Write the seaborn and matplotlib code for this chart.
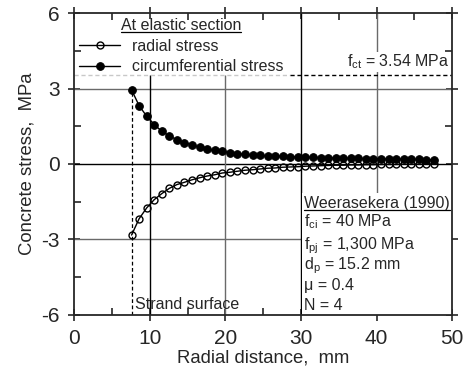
import numpy as np
import pandas as pd
import matplotlib
matplotlib.use("Agg")
import matplotlib.pyplot as plt
import seaborn as sns
from matplotlib.lines import Line2D
from matplotlib.patches import Rectangle

# radial distance from strand centre (mm)
r = [7.6, 8.6, 9.6, 10.6, 11.6, 12.6, 13.6, 14.6, 15.6, 16.6, 17.6, 18.6, 19.6, 20.6,
     21.6, 22.6, 23.6, 24.6, 25.6, 26.6, 27.6, 28.6, 29.6, 30.6, 31.6, 32.6, 33.6, 34.6,
     35.6, 36.6, 37.6, 38.6, 39.6, 40.6, 41.6, 42.6, 43.6, 44.6, 45.6, 46.6, 47.6]
circ = [2.95, 2.32, 1.90, 1.57, 1.30, 1.12, 0.96, 0.85, 0.76, 0.66, 0.60, 0.54, 0.50, 0.45,
        0.41, 0.38, 0.36, 0.34, 0.32, 0.31, 0.30, 0.29, 0.28, 0.27, 0.26, 0.25, 0.24, 0.24,
        0.23, 0.22, 0.22, 0.21, 0.21, 0.20, 0.20, 0.19, 0.19, 0.18, 0.18, 0.17, 0.17]
radial = [-2.83, -2.18, -1.75, -1.42, -1.18, -0.97, -0.82, -0.73, -0.63, -0.55, -0.48, -0.43, -0.36, -0.33,
          -0.29, -0.25, -0.23, -0.20, -0.17, -0.16, -0.13, -0.12, -0.11, -0.09, -0.08, -0.07, -0.06, -0.05,
          -0.05, -0.04, -0.04, -0.03, -0.03, -0.02, -0.02, -0.02, -0.01, -0.01, -0.01, -0.01, -0.01]

strand_r = 7.6
fct = 3.54
params = ["Weerasekera (1990)", r"f$_{\rm ci}$ = 40 MPa", r"f$_{\rm pj}$ = 1,300 MPa",
          r"d$_{\rm p}$ = 15.2 mm", "\u03bc = 0.4", "N = 4"]

df = pd.DataFrame({"r": r, "radial": radial, "circ": circ})

sns.set_style("ticks")
plt.rcParams["font.family"] = ["Liberation Sans", "DejaVu Sans"]
plt.rcParams["mathtext.fontset"] = "custom"
plt.rcParams["mathtext.rm"] = "Liberation Sans"
plt.rcParams["mathtext.it"] = "Liberation Sans:italic"
plt.rcParams["axes.unicode_minus"] = False

fig = plt.figure(figsize=(4.69, 3.78), dpi=100)
ax = fig.add_axes([0.158, 0.1675, 0.806, 0.7975])

grey = "#6a6a6a"
# grid-like reference lines
ax.axhline(3, color=grey, lw=1, zorder=1)
ax.axhline(0, color="black", lw=1, zorder=1)
ax.axhline(-3, color=grey, lw=1, zorder=1)
ax.vlines(10, -6, fct, color="black", lw=1, zorder=1)
ax.vlines(20, -6, fct, color=grey, lw=1, zorder=1)
ax.axvline(30, color="black", lw=1, zorder=1)
ax.axvline(40, color=grey, lw=1, zorder=1)
ax.hlines(fct, 0, 28.5, color="#c8c8c8", lw=1, linestyles=(0, (3, 2)), zorder=1)
ax.hlines(fct, 28.5, 50, color="black", lw=1, linestyles=(0, (3, 2)), zorder=1)
ax.vlines(strand_r, -6, circ[0], color="black", lw=0.9, linestyles=(0, (3, 2)), zorder=1)

ax.add_patch(Rectangle((30.08, -6), 19.9, 4.85, fc="white", ec="none", zorder=1.5))

sns.lineplot(data=df, x="r", y="radial", ax=ax, color="black", lw=1, marker="o",
             markersize=5, markerfacecolor="none", markeredgecolor="black",
             markeredgewidth=1, label="radial stress", zorder=3)
sns.lineplot(data=df, x="r", y="circ", ax=ax, color="black", lw=1, marker="o",
             markersize=5.5, markerfacecolor="black", markeredgecolor="black",
             label="circumferential stress", zorder=3)

ax.set_xlim(0, 50)
ax.set_ylim(-6, 6)
ax.set_xticks([0, 10, 20, 30, 40, 50])
ax.set_xticks([5, 15, 25, 35, 45], minor=True)
ax.set_yticks([-6, -3, 0, 3, 6])
ax.set_yticks([-4.5, -1.5, 1.5, 4.5], minor=True)
ax.tick_params(which="major", direction="inout", length=9, width=1.2, labelsize=15, pad=6,
               top=True, right=True)
ax.tick_params(which="minor", direction="in", length=5, width=1.2, top=True, right=True)
for s in ax.spines.values():
    s.set_linewidth(1.3)
    s.set_zorder(4)

ax.set_xlabel("Radial distance,  mm", fontsize=13.3, labelpad=1)
ax.set_ylabel("Concrete stress,  MPa", fontsize=13.3, labelpad=4)

leg = ax.legend(loc="upper left", bbox_to_anchor=(0.0, 1.0), frameon=False,
                title="At elastic section", fontsize=11.5, title_fontsize=11.5,
                handlelength=2.6, handletextpad=0.7, labelspacing=0.35,
                borderaxespad=0.1, borderpad=0.2)

ax.text(49.6, 3.88, r"f$_{\rm ct}$ = 3.54 MPa", ha="right", va="baseline", fontsize=11.5,
        bbox=dict(fc="white", ec="none", pad=0.5), zorder=2)
ax.text(8.1, -5.78, "Strand surface", ha="left", va="baseline", fontsize=11.5, zorder=2)

ys = [-1.75, -2.49, -3.39, -4.18, -5.0, -5.8]
texts = []
for lab, yv in zip(params, ys):
    texts.append(ax.text(30.38, yv, lab, ha="left", va="baseline", fontsize=11.5, zorder=2))

# underline the two headings
fig.canvas.draw()
rend = fig.canvas.get_renderer()
for t in [leg.get_title(), texts[0]]:
    bb = t.get_window_extent(rend)
    y0 = bb.y0 + 1
    fig.add_artist(Line2D([bb.x0, bb.x1], [y0, y0], transform=None, color="black", lw=0.9))

fig.savefig("out.png", dpi=100)
